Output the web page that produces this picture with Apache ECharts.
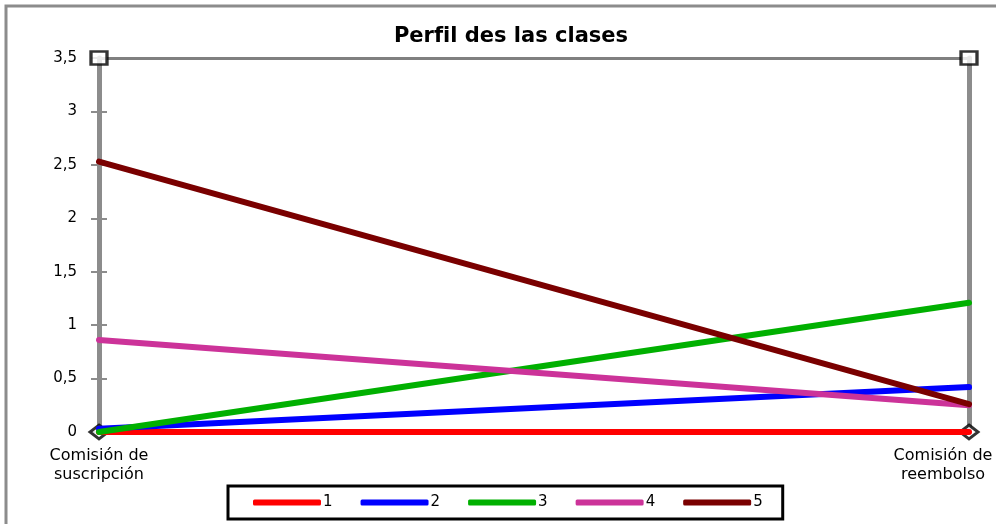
<!DOCTYPE html>
<html lang="es">
<head>
    <meta charset="utf-8" />
    <title>Perfil des las clases</title>
    <script type="text/javascript" src="https://cdn.jsdelivr.net/npm/echarts@6/dist/echarts.min.js"></script>
    <style type="text/css">
        body { margin: 0; background: #fff; }
    </style>
</head>
<body>
    <div id="main" style="width:996px;height:524px;"></div>
    <script type="text/javascript">
        // datos
        var categorias = ['Comisión de\nsuscripción', 'Comisión de\nreembolso'];
        var clase1 = [0, 0];
        var clase2 = [0.03, 0.42];
        var clase3 = [0, 1.21];
        var clase4 = [0.86, 0.25];
        var clase5 = [2.53, 0.26];
        var nombres = ['1', '2', '3', '4', '5'];
        var colores = ['#ff0000', '#0000ff', '#00b000', '#cc3399', '#7a0000'];
        var yMax = 3.5;

        var myChart = echarts.init(document.getElementById('main'));
        var fuente = 'DejaVu Sans';

        function serie(i, data) {
            return {
                name: nombres[i],
                type: 'line',
                data: data,
                symbol: 'none',
                z: 5,
                lineStyle: { width: 6, color: colores[i], cap: 'round' },
                itemStyle: { color: colores[i] }
            };
        }

        var option = {
            animation: false,
            textStyle: { fontFamily: fuente },
            title: {
                text: 'Perfil des las clases',
                left: 506, top: 21, textAlign: 'center',
                textStyle: { fontSize: 21, fontWeight: 'bold', color: '#000', fontFamily: fuente }
            },
            graphic: [{
                type: 'rect',
                shape: { x: 6, y: 6, width: 1000, height: 540 },
                style: { fill: 'none', stroke: '#8c8c8c', lineWidth: 3 },
                silent: true, z: -1
            }],
            legend: {
                data: nombres,
                left: 228, top: 486,
                padding: [9, 20, 9, 25],
                borderColor: '#000', borderWidth: 3,
                itemWidth: 68, itemHeight: 6, itemGap: 28,
                icon: 'roundRect',
                textStyle: { fontSize: 15, color: '#000', padding: [0, 0, 0, -3] }
            },
            grid: { left: 99, right: 27, top: 58, bottom: 92, outerBoundsMode: 'none', containLabel: false },
            xAxis: [{
                type: 'category',
                data: categorias,
                boundaryGap: false,
                axisLine: { show: false },
                axisTick: { show: false },
                axisLabel: {
                    color: '#000', fontSize: 16, margin: 14, lineHeight: 19,
                    formatter: function (v, i) {
                        return i === categorias.length - 1 ? '{r|' + v.split('\n').join('}\n{r|') + '}' : v;
                    },
                    rich: { r: { fontSize: 16, lineHeight: 19, color: '#000', padding: [0, 52, 0, 0] } }
                }
            }, {
                type: 'category',
                data: categorias,
                position: 'top',
                boundaryGap: false,
                axisLine: { show: true, onZero: false, lineStyle: { color: '#808080', width: 3 } },
                axisTick: { show: false },
                axisLabel: { show: false }
            }],
            yAxis: [{
                type: 'value',
                min: 0, max: yMax, interval: 0.5,
                axisLine: { show: true, lineStyle: { color: '#8c8c8c', width: 5 } },
                axisTick: { show: true, inside: true, length: 8, lineStyle: { color: '#8c8c8c', width: 2 } },
                splitLine: { show: false },
                axisLabel: {
                    color: '#000', fontSize: 15, margin: 22,
                    formatter: function (v) { return String(v).replace('.', ','); }
                }
            }, {
                type: 'value',
                min: 0, max: yMax, interval: 0.5,
                position: 'left',
                axisLine: { show: false },
                axisTick: { show: true, length: 8, lineStyle: { color: '#8c8c8c', width: 2 } },
                splitLine: { show: false },
                axisLabel: { show: false }
            }, {
                type: 'value',
                min: 0, max: yMax, interval: 0.5,
                position: 'right',
                axisLine: { show: true, lineStyle: { color: '#8c8c8c', width: 5 } },
                axisTick: { show: false },
                splitLine: { show: false },
                axisLabel: { show: false }
            }],
            series: [
                serie(0, clase1),
                serie(1, clase2),
                serie(2, clase3),
                serie(3, clase4),
                serie(4, clase5),
                {
                    type: 'scatter',
                    data: [[0, yMax], [1, yMax]],
                    symbol: 'rect', symbolSize: [16, 13],
                    itemStyle: { color: '#fff', borderColor: '#000', borderWidth: 3 },
                    z: 10, silent: true
                },
                {
                    type: 'scatter',
                    data: [[0, 0], [1, 0]],
                    symbol: 'diamond', symbolSize: [18, 14],
                    itemStyle: { color: '#fff', borderColor: '#000', borderWidth: 3 },
                    z: 2, silent: true
                }
            ]
        };
        myChart.setOption(option);
    </script>
</body>
</html>
